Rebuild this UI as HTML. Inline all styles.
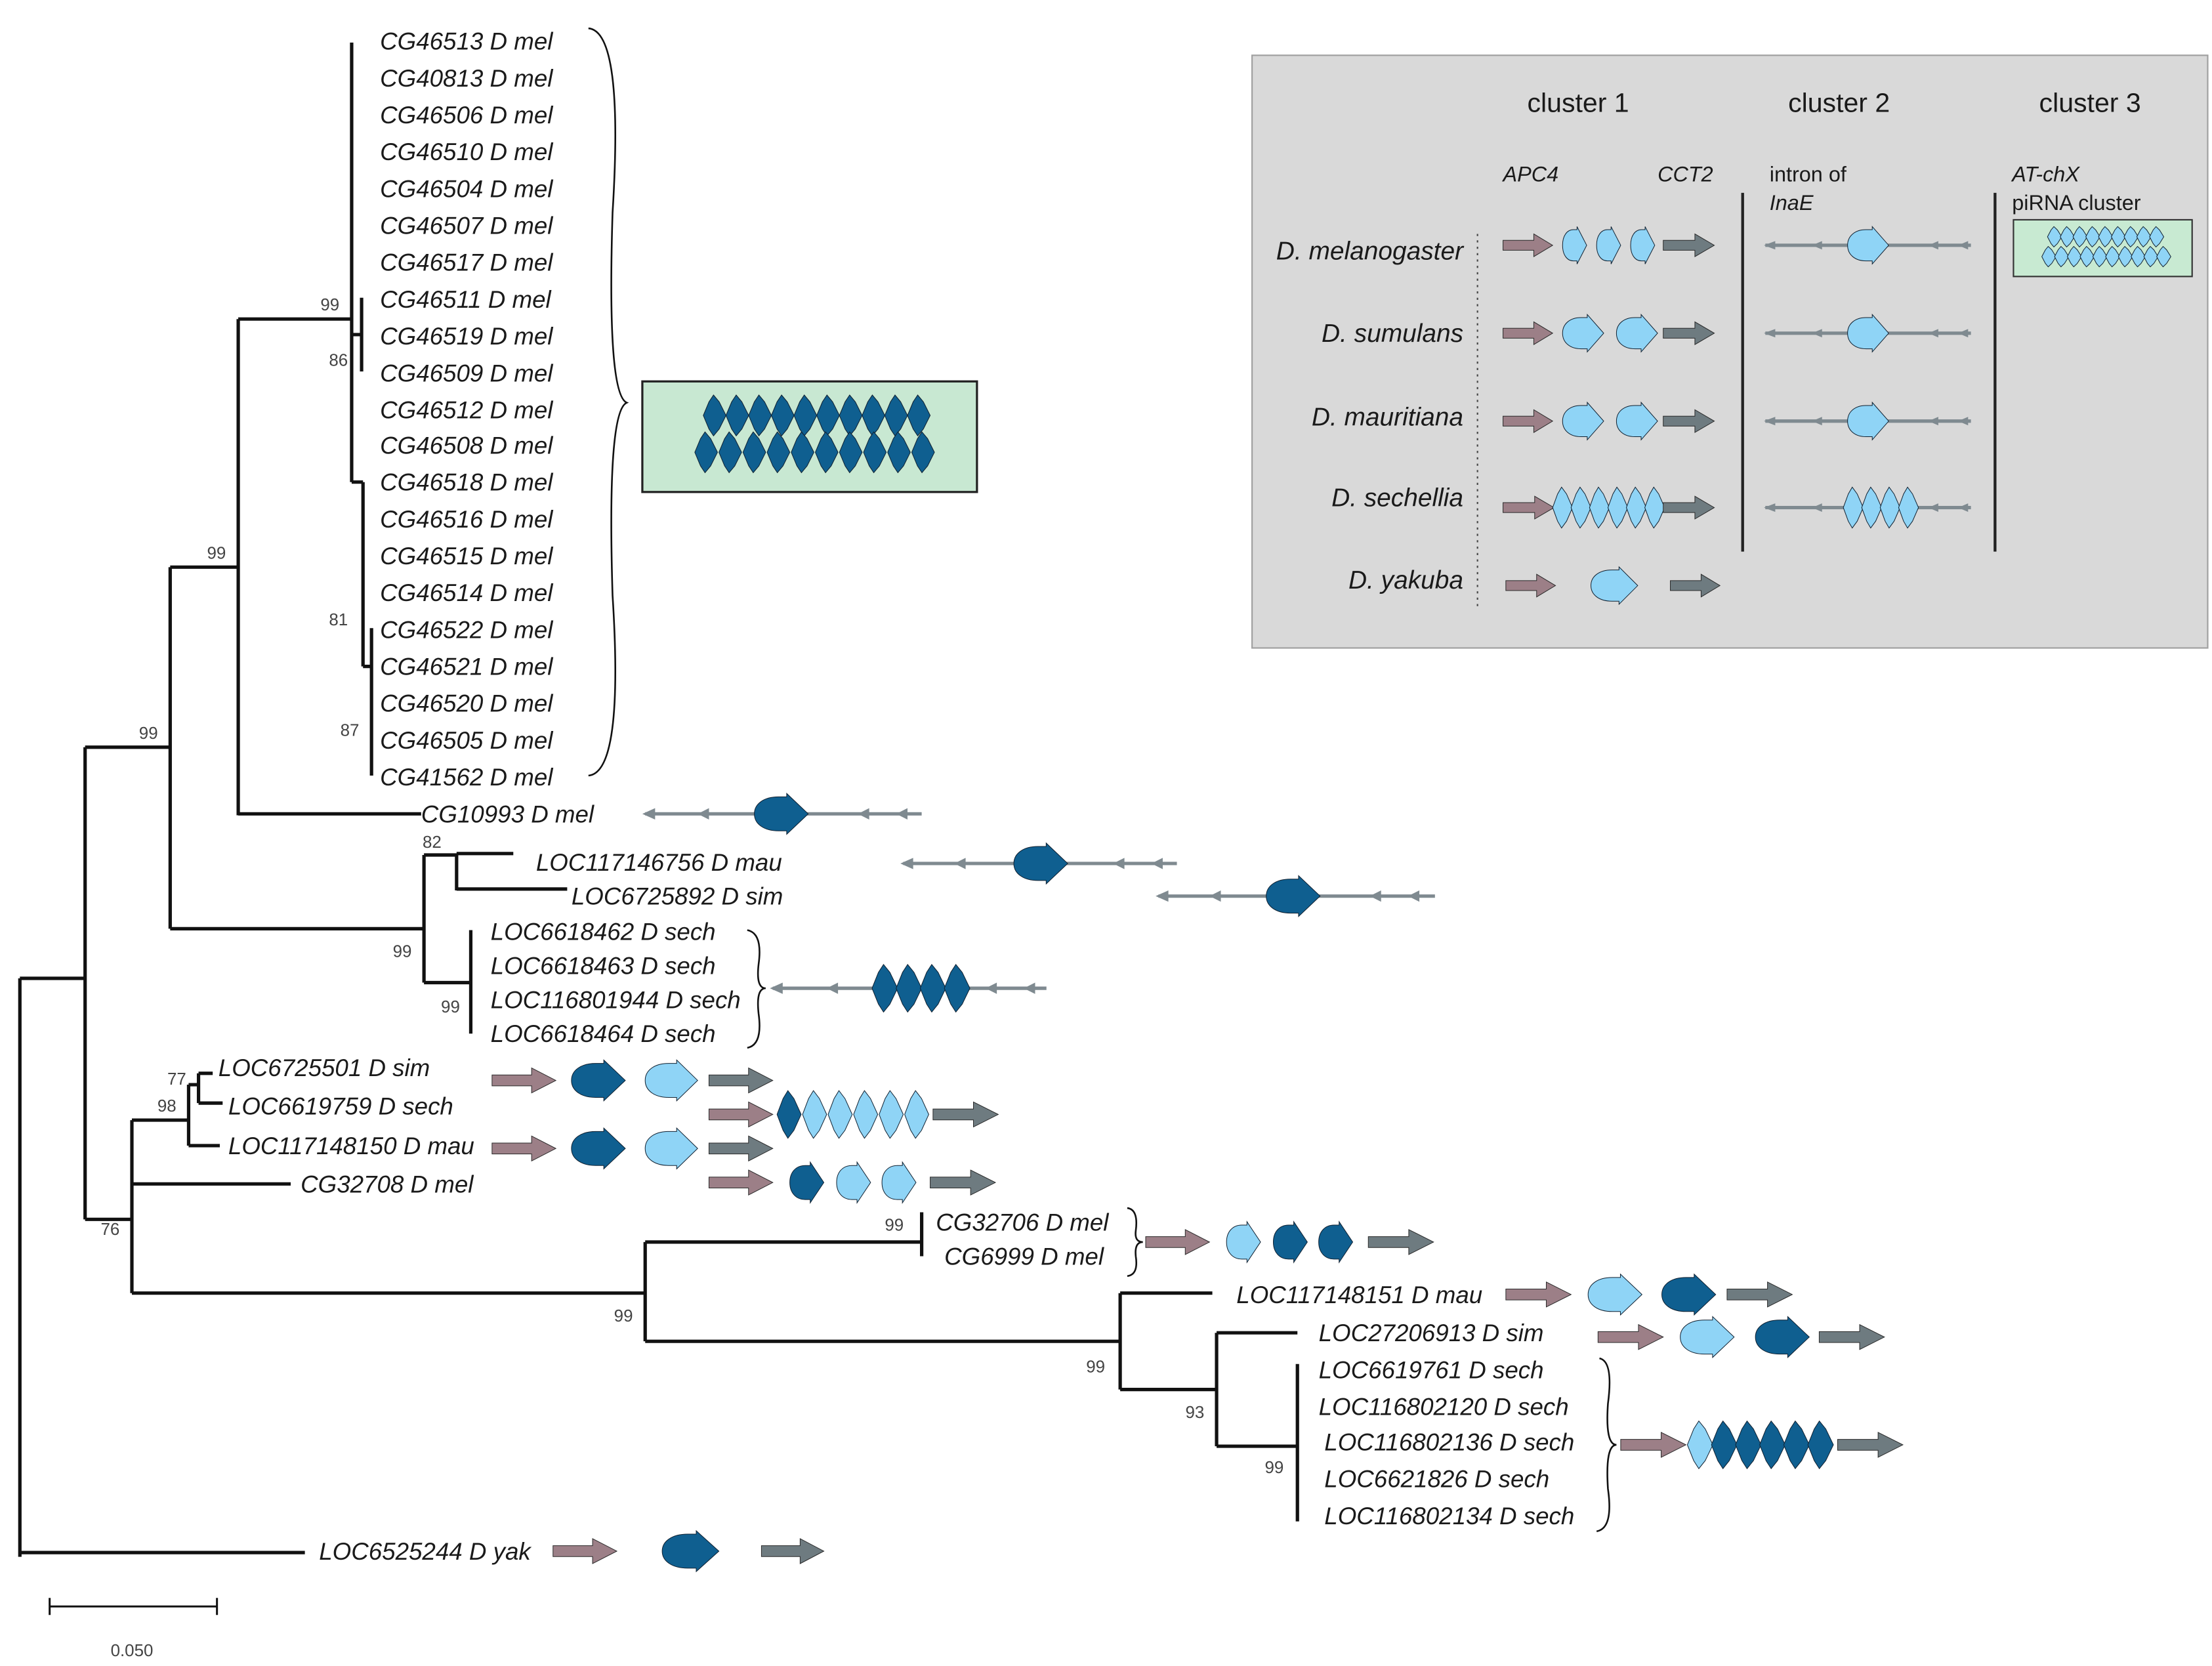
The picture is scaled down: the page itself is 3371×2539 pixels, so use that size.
<!DOCTYPE html>
<html><head><meta charset="utf-8"><style>
html,body{margin:0;padding:0;background:#fff}
svg{display:block}
text{font-family:"Liberation Sans",sans-serif;fill:#1a1a1a}
.l{font-style:italic;font-size:17px}
.b{font-size:12px;fill:#444}
.p{fill:#9c7f87;stroke:#2a2a2a;stroke-width:1}
.g{fill:#6e7b80;stroke:#2a2a2a;stroke-width:1}
.d{fill:#0f5f90;stroke:#102030;stroke-width:1}
.c{fill:#8fd4f6;stroke:#102030;stroke-width:1}
</style></head><body>
<svg width="3371" height="2539" viewBox="0 0 1560 1175" xmlns="http://www.w3.org/2000/svg">
<defs>
<g id="ar"><polygon vector-effect="non-scaling-stroke" points="0,-0.35 0.62,-0.35 0.62,-0.8 1,0 0.62,0.8 0.62,0.35 0,0.35"/></g>
<g id="ge"><path vector-effect="non-scaling-stroke" d="M0.45,-1 L0.6,-1 L0.6,-1.2 L1,0 L0.6,1.2 L0.6,1 L0.45,1 C0.18,1 0,0.6 0,0 C0,-0.6 0.18,-1 0.45,-1Z"/></g>
<g id="ln"><path vector-effect="non-scaling-stroke" d="M0,0 L0.25,-0.8 L0.45,-1.2 L0.7,-0.8 L1,0 L0.7,0.8 L0.45,1.2 L0.25,0.8Z"/></g>
</defs>

<!-- tree -->
<g stroke="#111" stroke-width="2.4" fill="none">
<path d="M14,690 V1098 M14,690 H60 M14,1095 H215
M60,527 V860 M60,527 H120 M60,860 H93
M120,400 V655 M120,400 H168 M120,655 H299
M168,225 V575 M168,225 H248 M168,574 H297
M248,30 V340 M248,340 H256 M256,340 V470 M256,470 H262 M262,443 V547 M248,236 H255 M255,210 V262
M299,603 V693 M299,603 H322 M322,602 V628 M322,602 H362 M322,627 H400 M299,693 H332 M332,656 V729
M93,790 V912 M93,790 H133 M133,765 V808 M133,765 H140 M140,757 V778 M140,757 H150 M140,778 H157 M133,808 H155 M93,835 H205
M93,912 H455 M455,876 V946 M455,876 H650 M650,855 V886 M455,946 H790
M790,912 V980 M790,912 H855 M790,980 H858 M858,940 V1020 M858,940 H915 M858,1020 H915 M915,962 V1073"/>
</g>
<g stroke="#111" stroke-width="1.4" fill="none">
<path d="M35,1133 H153 M35,1127 V1139 M153,1127 V1139"/>
<path d="M415,20 Q440,22 432,150 Q428,278 442,284 Q428,290 432,420 Q440,545 415,547" stroke-width="1.2"/>
<path d="M527,656 Q538,658 535,680 Q533,697 540,697 Q533,697 535,715 Q538,737 527,739" stroke-width="1.2"/>
<path d="M795,852 Q803,853 801,868 Q800,876 806,876 Q800,876 801,886 Q803,899 795,900" stroke-width="1.2"/>
<path d="M1128,958 Q1138,960 1134,990 Q1132,1019 1140,1019 Q1132,1019 1134,1050 Q1138,1078 1126,1080" stroke-width="1.2"/>
</g>
<text class="b" x="78" y="1168">0.050</text>

<!-- bootstrap -->
<text class="b" x="226" y="219">99</text>
<text class="b" x="232" y="258">86</text>
<text class="b" x="232" y="441">81</text>
<text class="b" x="240" y="519">87</text>
<text class="b" x="146" y="394">99</text>
<text class="b" x="98" y="521">99</text>
<text class="b" x="298" y="598">82</text>
<text class="b" x="277" y="675">99</text>
<text class="b" x="311" y="714">99</text>
<text class="b" x="118" y="765">77</text>
<text class="b" x="111" y="784">98</text>
<text class="b" x="71" y="871">76</text>
<text class="b" x="624" y="868">99</text>
<text class="b" x="433" y="932">99</text>
<text class="b" x="766" y="968">99</text>
<text class="b" x="836" y="1000">93</text>
<text class="b" x="892" y="1039">99</text>

<!-- labels -->
<g class="l">
<text x="268" y="35">CG46513 D mel</text>
<text x="268" y="61">CG40813 D mel</text>
<text x="268" y="87">CG46506 D mel</text>
<text x="268" y="113">CG46510 D mel</text>
<text x="268" y="139">CG46504 D mel</text>
<text x="268" y="165">CG46507 D mel</text>
<text x="268" y="191">CG46517 D mel</text>
<text x="268" y="217">CG46511 D mel</text>
<text x="268" y="243">CG46519 D mel</text>
<text x="268" y="269">CG46509 D mel</text>
<text x="268" y="295">CG46512 D mel</text>
<text x="268" y="320">CG46508 D mel</text>
<text x="268" y="346">CG46518 D mel</text>
<text x="268" y="372">CG46516 D mel</text>
<text x="268" y="398">CG46515 D mel</text>
<text x="268" y="424">CG46514 D mel</text>
<text x="268" y="450">CG46522 D mel</text>
<text x="268" y="476">CG46521 D mel</text>
<text x="268" y="502">CG46520 D mel</text>
<text x="268" y="528">CG46505 D mel</text>
<text x="268" y="554">CG41562 D mel</text>
<text x="297" y="580">CG10993 D mel</text>
<text x="378" y="614">LOC117146756 D mau</text>
<text x="403" y="638">LOC6725892 D sim</text>
<text x="346" y="663">LOC6618462 D sech</text>
<text x="346" y="687">LOC6618463 D sech</text>
<text x="346" y="711">LOC116801944 D sech</text>
<text x="346" y="735">LOC6618464 D sech</text>
<text x="154" y="759">LOC6725501 D sim</text>
<text x="161" y="786">LOC6619759 D sech</text>
<text x="161" y="814">LOC117148150 D mau</text>
<text x="212" y="841">CG32708 D mel</text>
<text x="660" y="868">CG32706 D mel</text>
<text x="666" y="892">CG6999 D mel</text>
<text x="872" y="919">LOC117148151 D mau</text>
<text x="930" y="946">LOC27206913 D sim</text>
<text x="930" y="972">LOC6619761 D sech</text>
<text x="930" y="998">LOC116802120 D sech</text>
<text x="934" y="1023">LOC116802136 D sech</text>
<text x="934" y="1049">LOC6621826 D sech</text>
<text x="934" y="1075">LOC116802134 D sech</text>
<text x="225" y="1100">LOC6525244 D yak</text>
</g>

<!-- big box -->
<rect x="453" y="269" width="236" height="78" fill="#c8e8d2" stroke="#222" stroke-width="1.5"/>
<g class="d">
<use href="#ln" transform="translate(496,293) scale(16,12)"/><use href="#ln" transform="translate(512,293) scale(16,12)"/><use href="#ln" transform="translate(528,293) scale(16,12)"/><use href="#ln" transform="translate(544,293) scale(16,12)"/><use href="#ln" transform="translate(560,293) scale(16,12)"/><use href="#ln" transform="translate(576,293) scale(16,12)"/><use href="#ln" transform="translate(592,293) scale(16,12)"/><use href="#ln" transform="translate(608,293) scale(16,12)"/><use href="#ln" transform="translate(624,293) scale(16,12)"/><use href="#ln" transform="translate(640,293) scale(16,12)"/>
<use href="#ln" transform="translate(490,319) scale(16,12)"/><use href="#ln" transform="translate(507,319) scale(16,12)"/><use href="#ln" transform="translate(524,319) scale(16,12)"/><use href="#ln" transform="translate(541,319) scale(16,12)"/><use href="#ln" transform="translate(558,319) scale(16,12)"/><use href="#ln" transform="translate(575,319) scale(16,12)"/><use href="#ln" transform="translate(592,319) scale(16,12)"/><use href="#ln" transform="translate(609,319) scale(16,12)"/><use href="#ln" transform="translate(626,319) scale(16,12)"/><use href="#ln" transform="translate(643,319) scale(16,12)"/>
</g>

<!-- legend background -->
<rect x="883" y="39" width="674" height="418" fill="#d9d9d9" stroke="#a0a0a0" stroke-width="1"/>

<!-- intron lines -->
<g stroke="#7f8a90" stroke-width="2.4" fill="#7f8a90">
<line x1="455" y1="574" x2="650" y2="574"/><line x1="637" y1="609" x2="830" y2="609"/><line x1="817" y1="632" x2="1012" y2="632"/><line x1="545" y1="697" x2="738" y2="697"/>
<line x1="1245" y1="173" x2="1390" y2="173"/><line x1="1245" y1="235" x2="1390" y2="235"/><line x1="1245" y1="297" x2="1390" y2="297"/><line x1="1245" y1="358" x2="1390" y2="358"/>
</g>
<g fill="#7f8a90">
<polygon points="453,574 462,570 462,578"/><polygon points="492,574 500,570 500,578"/><polygon points="605,574 613,570 613,578"/><polygon points="632,574 640,570 640,578"/>
<polygon points="635,609 644,605 644,613"/><polygon points="673,609 681,605 681,613"/><polygon points="785,609 793,605 793,613"/><polygon points="812,609 820,605 820,613"/>
<polygon points="815,632 824,628 824,636"/><polygon points="853,632 861,628 861,636"/><polygon points="966,632 974,628 974,636"/><polygon points="993,632 1001,628 1001,636"/>
<polygon points="543,697 552,693 552,701"/><polygon points="583,697 591,693 591,701"/><polygon points="695,697 703,693 703,701"/><polygon points="722,697 730,693 730,701"/>
<polygon points="1244,173 1252,170 1252,176"/><polygon points="1278,173 1285,170 1285,176"/><polygon points="1360,173 1367,170 1367,176"/><polygon points="1381,173 1388,170 1388,176"/>
<polygon points="1244,235 1252,232 1252,238"/><polygon points="1278,235 1285,232 1285,238"/><polygon points="1360,235 1367,232 1367,238"/><polygon points="1381,235 1388,232 1388,238"/>
<polygon points="1244,297 1252,294 1252,300"/><polygon points="1278,297 1285,294 1285,300"/><polygon points="1360,297 1367,294 1367,300"/><polygon points="1381,297 1388,294 1388,300"/>
<polygon points="1244,358 1252,355 1252,361"/><polygon points="1278,358 1285,355 1285,361"/><polygon points="1360,358 1367,355 1367,361"/><polygon points="1381,358 1388,355 1388,361"/>
</g>

<!-- tree gene symbols -->
<use class="d" href="#ge" transform="translate(532,574) scale(38,12)"/>
<use class="d" href="#ge" transform="translate(715,609) scale(38,12)"/>
<use class="d" href="#ge" transform="translate(893,632) scale(38,12)"/>
<use class="d" href="#ln" transform="translate(615,697) scale(18,14)"/><use class="d" href="#ln" transform="translate(632,697) scale(18,14)"/><use class="d" href="#ln" transform="translate(649,697) scale(18,14)"/><use class="d" href="#ln" transform="translate(666,697) scale(18,14)"/>

<use class="p" href="#ar" transform="translate(347,762) scale(45,11)"/>
<use class="d" href="#ge" transform="translate(403,762) scale(38,12)"/>
<use class="c" href="#ge" transform="translate(455,762) scale(37,12)"/>
<use class="g" href="#ar" transform="translate(500,762) scale(45,11)"/>

<use class="p" href="#ar" transform="translate(500,786) scale(45,11)"/>
<use class="d" href="#ln" transform="translate(548,786) scale(17,14)"/>
<use class="c" href="#ln" transform="translate(566,786) scale(17,14)"/><use class="c" href="#ln" transform="translate(584,786) scale(17,14)"/><use class="c" href="#ln" transform="translate(602,786) scale(17,14)"/><use class="c" href="#ln" transform="translate(620,786) scale(17,14)"/><use class="c" href="#ln" transform="translate(638,786) scale(17,14)"/>
<use class="g" href="#ar" transform="translate(658,786) scale(46,11)"/>

<use class="p" href="#ar" transform="translate(347,810) scale(45,11)"/>
<use class="d" href="#ge" transform="translate(403,810) scale(38,12)"/>
<use class="c" href="#ge" transform="translate(455,810) scale(37,12)"/>
<use class="g" href="#ar" transform="translate(500,810) scale(45,11)"/>

<use class="p" href="#ar" transform="translate(500,834) scale(45,11)"/>
<use class="d" href="#ge" transform="translate(557,834) scale(24,12)"/>
<use class="c" href="#ge" transform="translate(590,834) scale(24,12)"/>
<use class="c" href="#ge" transform="translate(622,834) scale(24,12)"/>
<use class="g" href="#ar" transform="translate(656,834) scale(46,11)"/>

<use class="p" href="#ar" transform="translate(808,876) scale(45,11)"/>
<use class="c" href="#ge" transform="translate(865,876) scale(24,12)"/>
<use class="d" href="#ge" transform="translate(898,876) scale(24,12)"/>
<use class="d" href="#ge" transform="translate(930,876) scale(24,12)"/>
<use class="g" href="#ar" transform="translate(965,876) scale(46,11)"/>

<use class="p" href="#ar" transform="translate(1062,913) scale(46,11)"/>
<use class="c" href="#ge" transform="translate(1120,913) scale(38,12)"/>
<use class="d" href="#ge" transform="translate(1172,913) scale(38,12)"/>
<use class="g" href="#ar" transform="translate(1218,913) scale(46,11)"/>

<use class="p" href="#ar" transform="translate(1127,943) scale(46,11)"/>
<use class="c" href="#ge" transform="translate(1185,943) scale(38,12)"/>
<use class="d" href="#ge" transform="translate(1238,943) scale(38,12)"/>
<use class="g" href="#ar" transform="translate(1283,943) scale(46,11)"/>

<use class="p" href="#ar" transform="translate(1143,1019) scale(46,11)"/>
<use class="c" href="#ln" transform="translate(1190,1019) scale(18,14)"/>
<use class="d" href="#ln" transform="translate(1207,1019) scale(18,14)"/><use class="d" href="#ln" transform="translate(1224,1019) scale(18,14)"/><use class="d" href="#ln" transform="translate(1241,1019) scale(18,14)"/><use class="d" href="#ln" transform="translate(1258,1019) scale(18,14)"/><use class="d" href="#ln" transform="translate(1275,1019) scale(18,14)"/>
<use class="g" href="#ar" transform="translate(1296,1019) scale(46,11)"/>

<use class="p" href="#ar" transform="translate(390,1094) scale(45,11)"/>
<use class="d" href="#ge" transform="translate(467,1094) scale(40,12)"/>
<use class="g" href="#ar" transform="translate(537,1094) scale(44,11)"/>

<!-- legend -->
<g font-size="19" text-anchor="middle"><text x="1113" y="79">cluster 1</text><text x="1297" y="79">cluster 2</text><text x="1474" y="79">cluster 3</text></g>
<g font-size="15"><text x="1060" y="128" font-style="italic">APC4</text><text x="1169" y="128" font-style="italic">CCT2</text><text x="1248" y="128">intron of</text><text x="1248" y="148" font-style="italic">InaE</text><text x="1419" y="128" font-style="italic">AT-chX</text><text x="1419" y="148">piRNA cluster</text></g>
<g font-size="18" font-style="italic" text-anchor="end"><text x="1032" y="183">D. melanogaster</text><text x="1032" y="241">D. sumulans</text><text x="1032" y="300">D. mauritiana</text><text x="1032" y="357">D. sechellia</text><text x="1032" y="415">D. yakuba</text></g>
<line x1="1042" y1="165" x2="1042" y2="428" stroke="#444" stroke-width="1" stroke-dasharray="1.5,3"/>
<line x1="1229" y1="136" x2="1229" y2="389" stroke="#222" stroke-width="2"/>
<line x1="1407" y1="136" x2="1407" y2="389" stroke="#222" stroke-width="2"/>

<use class="p" href="#ar" transform="translate(1060,173) scale(35,10)"/>
<use class="c" href="#ge" transform="translate(1102,173) scale(17,11)"/><use class="c" href="#ge" transform="translate(1126,173) scale(17,11)"/><use class="c" href="#ge" transform="translate(1150,173) scale(17,11)"/>
<use class="g" href="#ar" transform="translate(1173,173) scale(36,10)"/>
<use class="c" href="#ge" transform="translate(1303,173) scale(29,11)"/>

<use class="p" href="#ar" transform="translate(1060,235) scale(35,10)"/>
<use class="c" href="#ge" transform="translate(1102,235) scale(29,11)"/><use class="c" href="#ge" transform="translate(1140,235) scale(29,11)"/>
<use class="g" href="#ar" transform="translate(1173,235) scale(36,10)"/>
<use class="c" href="#ge" transform="translate(1303,235) scale(29,11)"/>

<use class="p" href="#ar" transform="translate(1060,297) scale(35,10)"/>
<use class="c" href="#ge" transform="translate(1102,297) scale(29,11)"/><use class="c" href="#ge" transform="translate(1140,297) scale(29,11)"/>
<use class="g" href="#ar" transform="translate(1173,297) scale(36,10)"/>
<use class="c" href="#ge" transform="translate(1303,297) scale(29,11)"/>

<use class="p" href="#ar" transform="translate(1060,358) scale(36,10)"/>
<use class="c" href="#ln" transform="translate(1095,358) scale(14,12)"/><use class="c" href="#ln" transform="translate(1108,358) scale(14,12)"/><use class="c" href="#ln" transform="translate(1121,358) scale(14,12)"/><use class="c" href="#ln" transform="translate(1134,358) scale(14,12)"/><use class="c" href="#ln" transform="translate(1147,358) scale(14,12)"/><use class="c" href="#ln" transform="translate(1160,358) scale(14,12)"/>
<use class="g" href="#ar" transform="translate(1173,358) scale(36,10)"/>
<use class="c" href="#ln" transform="translate(1300,358) scale(14,12)"/><use class="c" href="#ln" transform="translate(1313,358) scale(14,12)"/><use class="c" href="#ln" transform="translate(1326,358) scale(14,12)"/><use class="c" href="#ln" transform="translate(1339,358) scale(14,12)"/>

<use class="p" href="#ar" transform="translate(1062,413) scale(35,10)"/>
<use class="c" href="#ge" transform="translate(1122,413) scale(33,11)"/>
<use class="g" href="#ar" transform="translate(1178,413) scale(35,10)"/>

<rect x="1420" y="155" width="126" height="40" fill="#c8ead2" stroke="#333" stroke-width="1"/>
<g class="c">
<use href="#ln" transform="translate(1444,167) scale(10,6)"/><use href="#ln" transform="translate(1453,167) scale(10,6)"/><use href="#ln" transform="translate(1462,167) scale(10,6)"/><use href="#ln" transform="translate(1471,167) scale(10,6)"/><use href="#ln" transform="translate(1480,167) scale(10,6)"/><use href="#ln" transform="translate(1489,167) scale(10,6)"/><use href="#ln" transform="translate(1498,167) scale(10,6)"/><use href="#ln" transform="translate(1507,167) scale(10,6)"/><use href="#ln" transform="translate(1516,167) scale(10,6)"/>
<use href="#ln" transform="translate(1440,181) scale(10,6)"/><use href="#ln" transform="translate(1449,181) scale(10,6)"/><use href="#ln" transform="translate(1458,181) scale(10,6)"/><use href="#ln" transform="translate(1467,181) scale(10,6)"/><use href="#ln" transform="translate(1476,181) scale(10,6)"/><use href="#ln" transform="translate(1485,181) scale(10,6)"/><use href="#ln" transform="translate(1494,181) scale(10,6)"/><use href="#ln" transform="translate(1503,181) scale(10,6)"/><use href="#ln" transform="translate(1512,181) scale(10,6)"/><use href="#ln" transform="translate(1521,181) scale(10,6)"/>
</g>
</svg>
</body></html>
